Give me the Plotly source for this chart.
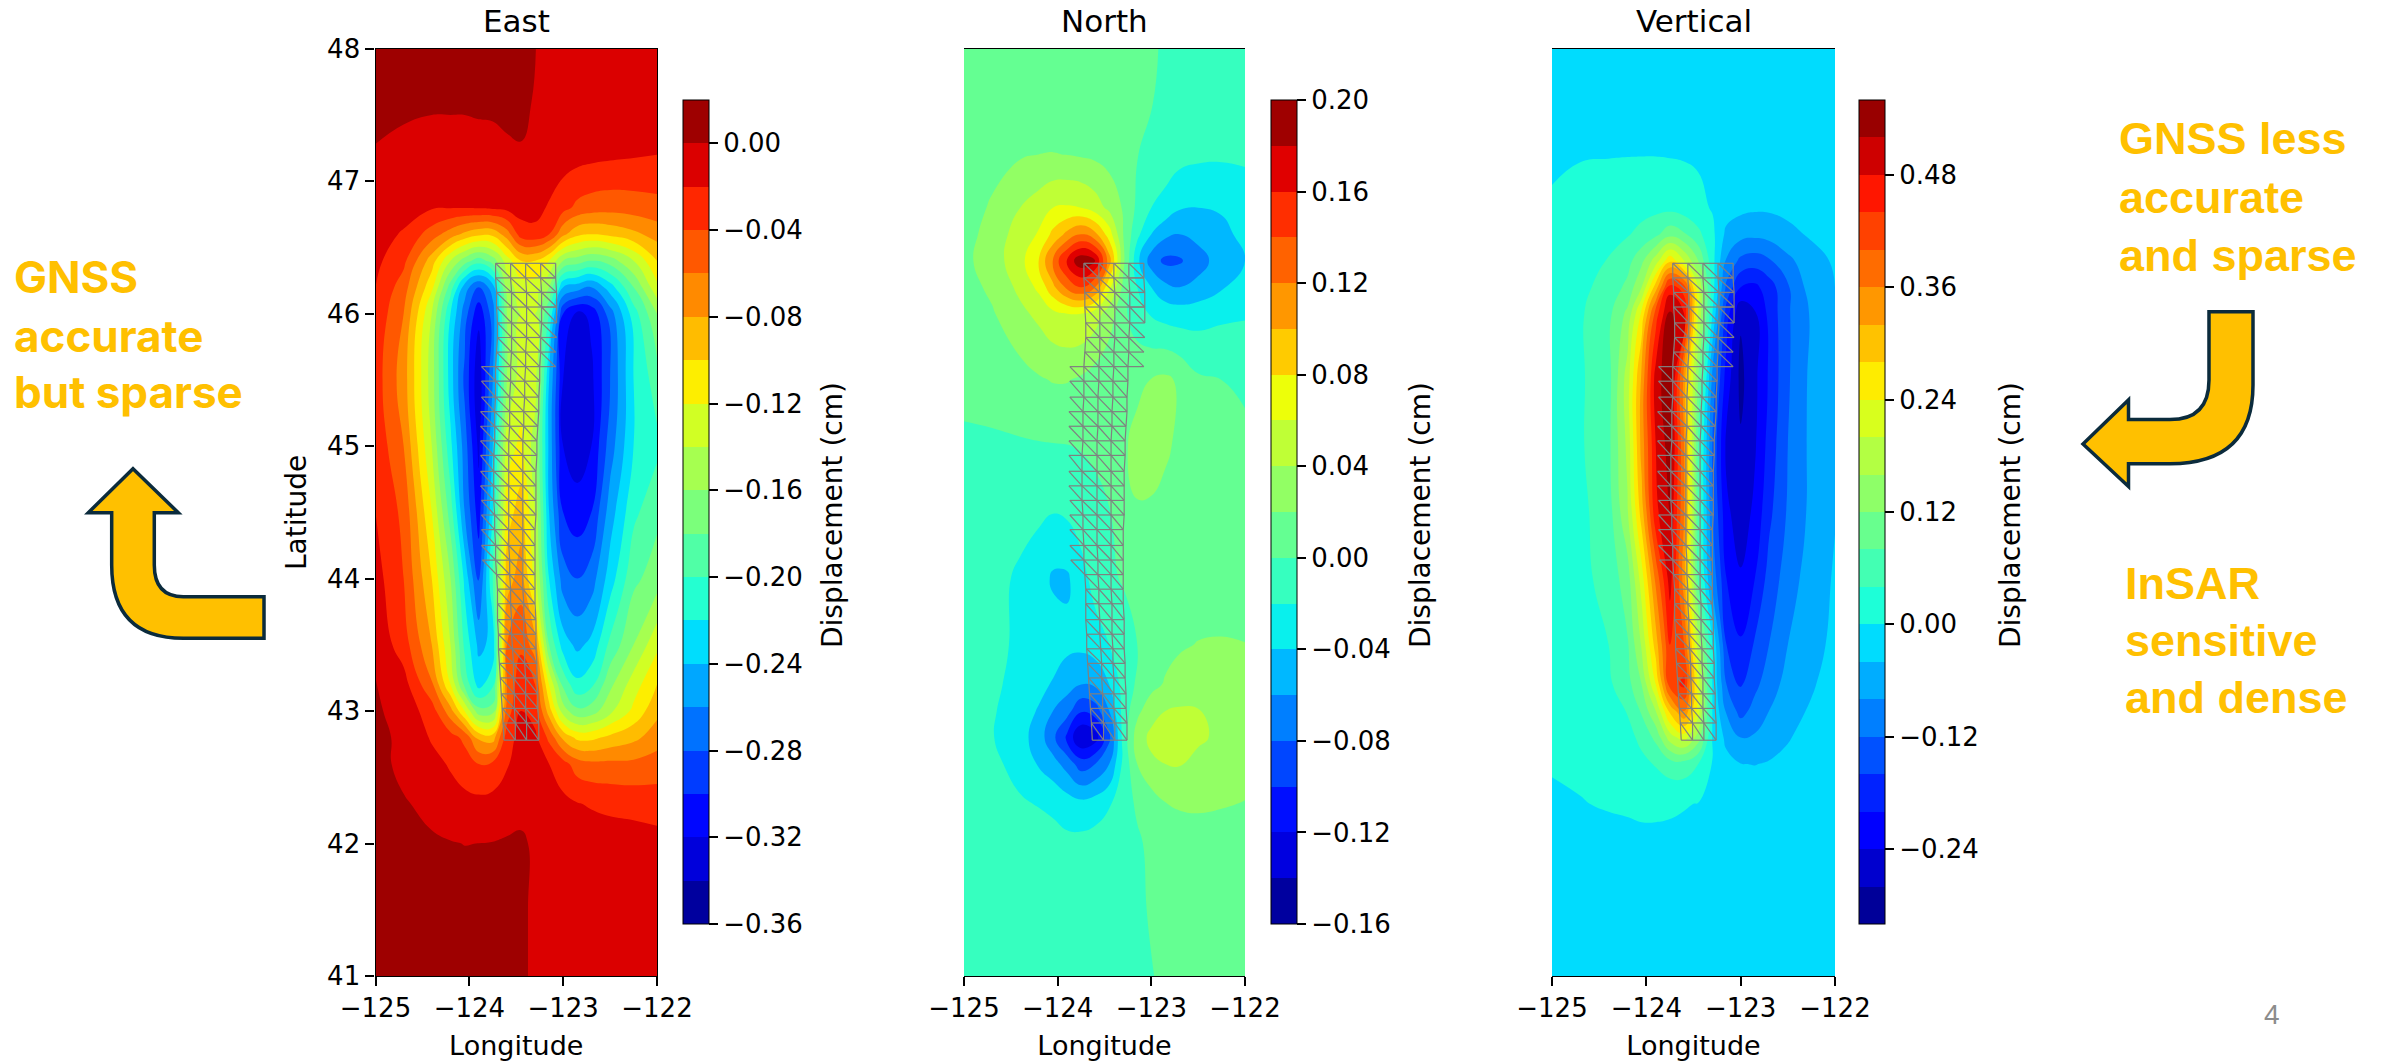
import numpy as np
import plotly.graph_objects as go

W, H = 2384, 1061

lon_nodes = [-125,-124.7,-124.4,-124.2,-124.05,-123.9,-123.75,-123.6,-123.45,-123.3,-123.15,-123,-122.85,-122.7,-122.5,-122.25,-122]
lat_nodes = [48,47.6,47.2,46.8,46.6,46.4,46.2,46,45.5,45,44.5,44,43.5,43.2,43,42.8,42.6,42.3,42,41.5,41]

east_z = [
[.012,.012,.012,.01,.008,.008,.006,.005,.003,.0002,-.003,-.006,-.008,-.008,-.008,-.008,-.008],
[.004,.003,.002,.002,.002,.003,.003,.006,.006,-.002,-.005,-.008,-.01,-.01,-.011,-.012,-.012],
[-.001,-.004,-.006,-.006,-.006,-.006,-.005,-.004,-.002,-.004,-.007,-.01,-.012,-.014,-.016,-.018,-.02],
[-.007,-.012,-.018,-.019,-.019,-.018,-.016,-.014,-.012,-.014,-.022,-.033,-.045,-.05,-.052,-.05,-.047],
[-.012,-.022,-.05,-.07,-.085,-.095,-.095,-.07,-.03,-.025,-.04,-.075,-.095,-.10,-.095,-.085,-.072],
[-.015,-.035,-.09,-.14,-.17,-.19,-.17,-.13,-.10,-.10,-.12,-.16,-.17,-.18,-.17,-.14,-.10],
[-.02,-.05,-.115,-.19,-.25,-.28,-.25,-.15,-.13,-.13,-.16,-.24,-.25,-.26,-.23,-.18,-.125],
[-.025,-.06,-.14,-.22,-.27,-.315,-.27,-.16,-.14,-.14,-.20,-.30,-.325,-.315,-.27,-.21,-.16],
[-.03,-.07,-.15,-.23,-.285,-.335,-.26,-.16,-.13,-.13,-.24,-.32,-.335,-.325,-.28,-.22,-.19],
[-.025,-.06,-.14,-.215,-.27,-.325,-.24,-.13,-.115,-.15,-.245,-.32,-.33,-.32,-.27,-.22,-.205],
[-.02,-.045,-.12,-.19,-.26,-.31,-.22,-.11,-.09,-.14,-.24,-.30,-.312,-.30,-.25,-.205,-.185],
[-.012,-.04,-.10,-.16,-.225,-.285,-.20,-.09,-.07,-.13,-.22,-.27,-.28,-.27,-.23,-.185,-.17],
[-.005,-.03,-.08,-.14,-.205,-.245,-.235,-.06,-.045,-.07,-.18,-.23,-.245,-.235,-.195,-.16,-.125],
[.001,-.012,-.057,-.12,-.185,-.228,-.205,-.06,-.025,-.04,-.12,-.185,-.215,-.205,-.165,-.13,-.10],
[.003,-.008,-.03,-.072,-.12,-.172,-.17,-.05,-.02,-.03,-.09,-.15,-.175,-.17,-.145,-.115,-.085],
[.005,-.004,-.022,-.032,-.045,-.085,-.09,-.03,-.012,-.015,-.045,-.085,-.105,-.105,-.095,-.085,-.07],
[.008,-.006,-.014,-.022,-.03,-.04,-.035,-.022,-.01,-.014,-.02,-.032,-.05,-.055,-.055,-.055,-.05],
[.012,.002,-.006,-.012,-.014,-.014,-.013,-.009,-.004,-.008,-.012,-.015,-.019,-.022,-.025,-.027,-.03],
[.015,.01,.003,.001,-.0003,.0001,.0006,.002,.002,-.002,-.004,-.006,-.007,-.008,-.009,-.01,-.012],
[.02,.015,.012,.01,.009,.008,.007,.006,.002,-.002,-.005,-.006,-.007,-.007,-.007,-.008,-.008],
[.02,.018,.015,.012,.01,.009,.008,.006,.002,-.002,-.004,-.005,-.006,-.006,-.006,-.006,-.006],
]

north_z = [
[.008,.008,.008,.008,.008,.007,.007,.006,.005,.004,.003,.001,-.001,-.003,-.005,-.006,-.008],
[.009,.009,.01,.01,.01,.01,.01,.009,.008,.006,.003,.0005,-.002,-.005,-.007,-.009,-.01],
[.01,.014,.018,.0201,.0205,.0198,.018,.016,.012,.006,.0005,-.005,-.009,-.013,-.016,-.017,-.017],
[.012,.022,.04,.05,.06,.062,.06,.05,.035,.018,-.004,-.02,-.027,-.038,-.04,-.038,-.03],
[.013,.027,.05,.062,.085,.105,.12,.105,.07,.02,-.015,-.04,-.055,-.06,-.055,-.045,-.035],
[.015,.03,.053,.082,.123,.165,.195,.18,.11,.025,-.035,-.07,-.085,-.083,-.067,-.052,-.04],
[.012,.024,.045,.065,.095,.125,.14,.12,.065,.015,-.02,-.04,-.055,-.06,-.055,-.042,-.032],
[.01,.018,.035,.045,.055,.06,.06,.05,.03,.005,-.012,-.022,-.028,-.03,-.028,-.024,-.022],
[.005,.008,.012,.018,.021,.021,.017,.01,.004,.012,.017,.0205,.024,.017,.003,.0,-.003],
[-.003,-.003,-.002,-.0015,-.001,-.0005,.001,.003,.008,.018,.024,.026,.024,.015,.008,.005,.004],
[-.005,-.007,-.012,-.017,-.0195,-.017,-.01,-.005,-.001,.012,.019,.018,.012,.008,.005,.004,.004],
[-.006,-.012,-.024,-.03,-.043,-.043,-.028,-.012,-.004,.002,.009,.009,.008,.006,.006,.006,.007],
[-.008,-.014,-.024,-.027,-.029,-.035,-.035,-.03,-.02,-.012,0,.008,.014,.017,.021,.022,.0205],
[-.009,-.017,-.025,-.034,-.042,-.052,-.06,-.057,-.04,-.012,.003,.014,.022,.03,.031,.028,.026],
[-.009,-.018,-.03,-.042,-.06,-.072,-.098,-.09,-.06,-.012,.015,.032,.04,.042,.041,.033,.03],
[-.009,-.019,-.032,-.05,-.075,-.105,-.14,-.13,-.085,-.012,.03,.045,.05,.052,.044,.035,.03],
[-.008,-.016,-.026,-.042,-.052,-.068,-.09,-.08,-.06,-.015,.02,.036,.04,.041,.033,.028,.025],
[-.006,-.012,-.018,-.021,-.024,-.03,-.034,-.03,-.022,-.006,.002,.01,.0195,.022,.0225,.021,.0195],
[-.004,-.007,-.009,-.011,-.013,-.015,-.014,-.012,-.009,-.004,-.002,.003,.007,.01,.012,.013,.012],
[-.003,-.004,-.005,-.006,-.006,-.006,-.006,-.006,-.005,-.004,-.002,.001,.003,.005,.006,.007,.007],
[-.002,-.003,-.003,-.004,-.004,-.004,-.004,-.004,-.004,-.003,-.002,-.0005,.002,.003,.004,.005,.005],
]

vertical_z = [
[-.012,-.012,-.012,-.012,-.011,-.011,-.012,-.012,-.012,-.013,-.013,-.014,-.014,-.014,-.013,-.012,-.012],
[-.008,-.007,-.006,-.006,-.006,-.006,-.007,-.008,-.009,-.01,-.011,-.012,-.012,-.012,-.012,-.011,-.01],
[-.004,-.002,-.0015,-.0012,-.001,-.001,-.002,-.003,-.005,-.008,-.01,-.012,-.012,-.012,-.012,-.012,-.01],
[.003,.012,.018,.025,.028,.029,.028,.02,.01,-.003,-.02,-.03,-.034,-.034,-.03,-.025,-.02],
[.006,.02,.028,.037,.05,.07,.105,.085,.05,.01,-.05,-.065,-.07,-.065,-.05,-.035,-.028],
[.01,.025,.042,.065,.11,.18,.27,.20,.12,.015,-.085,-.13,-.14,-.125,-.09,-.055,-.035],
[.013,.03,.055,.09,.16,.30,.46,.42,.20,.02,-.13,-.20,-.21,-.18,-.125,-.06,-.04],
[.015,.035,.07,.13,.25,.42,.53,.48,.20,.0,-.18,-.275,-.245,-.19,-.125,-.075,-.042],
[.018,.035,.065,.18,.33,.50,.55,.34,.12,-.09,-.22,-.29,-.25,-.195,-.125,-.07,-.045],
[.018,.035,.07,.17,.335,.48,.54,.36,.075,-.12,-.25,-.275,-.245,-.185,-.12,-.07,-.045],
[.015,.03,.062,.155,.30,.47,.52,.36,.07,-.115,-.23,-.265,-.23,-.17,-.115,-.07,-.042],
[.01,.028,.055,.10,.22,.37,.50,.34,.07,-.09,-.20,-.235,-.20,-.145,-.10,-.06,-.036],
[.006,.022,.04,.075,.165,.30,.44,.40,.18,0,-.16,-.195,-.155,-.12,-.08,-.055,-.03],
[.004,.016,.033,.065,.12,.24,.42,.45,.22,0,-.12,-.165,-.13,-.10,-.065,-.045,-.02],
[.003,.012,.025,.042,.085,.16,.29,.36,.22,0,-.085,-.135,-.105,-.08,-.055,-.035,-.015],
[.002,.008,.016,.027,.05,.09,.18,.22,.14,-.002,-.05,-.08,-.075,-.06,-.043,-.025,-.012],
[.001,.004,.01,.018,.03,.043,.06,.062,.04,-.002,-.028,-.039,-.041,-.037,-.03,-.02,-.01],
[-.002,-.001,.002,.004,.006,.006,.005,.002,-.001,-.006,-.01,-.012,-.012,-.012,-.012,-.01,-.008],
[-.008,-.008,-.008,-.008,-.007,-.007,-.008,-.009,-.01,-.011,-.012,-.012,-.012,-.012,-.011,-.01,-.008],
[-.01,-.01,-.01,-.01,-.01,-.01,-.011,-.012,-.012,-.012,-.013,-.013,-.013,-.013,-.012,-.011,-.01],
[-.012,-.012,-.012,-.012,-.012,-.012,-.012,-.013,-.013,-.013,-.014,-.014,-.014,-.014,-.013,-.012,-.012],
]

# fault mesh nodes: one latitude per row, one longitude per row for each column
mesh_lat = [46.38,46.27,46.16,46.05,45.93,45.82,45.71,45.60,45.49,45.37,45.26,45.15,45.04,44.93,44.81,44.70,44.59,
            44.48,44.37,44.25,44.14,44.03,43.92,43.81,43.69,43.58,43.47,43.36,43.25,43.13,43.02,42.91,42.78]
mesh_w = [None]*7 + [-123.87,-123.87,-123.87,-123.88,-123.88,-123.88,-123.88,-123.88,-123.88,-123.87,-123.87,-123.87,-123.87,-123.86,-123.86] + [None]*11
mesh_a = [-123.72,-123.72,-123.71,-123.71,-123.70,-123.70,-123.71,-123.72,-123.72,-123.72,-123.73,-123.73,-123.73,-123.74,-123.74,-123.74,-123.74,
          -123.73,-123.73,-123.72,-123.72,-123.71,-123.70,-123.70,-123.70,-123.69,-123.69,-123.68,-123.67,-123.66,-123.65,-123.64,-123.63]
mesh_b = [-123.56,-123.56,-123.55,-123.55,-123.55,-123.55,-123.55,-123.56,-123.56,-123.57,-123.57,-123.57,-123.58,-123.58,-123.58,-123.58,-123.58,
          -123.58,-123.58,-123.58,-123.57,-123.57,-123.56,-123.56,-123.55,-123.55,-123.54,-123.53,-123.53,-123.52,-123.52,-123.51,-123.51]
mesh_c = [-123.40,-123.40,-123.39,-123.39,-123.39,-123.39,-123.40,-123.40,-123.41,-123.41,-123.42,-123.42,-123.43,-123.43,-123.43,-123.43,-123.43,
          -123.43,-123.43,-123.43,-123.43,-123.43,-123.43,-123.42,-123.42,-123.42,-123.41,-123.41,-123.40,-123.40,-123.40,-123.39,-123.39]
mesh_d = [-123.24,-123.24,-123.23,-123.23,-123.23,-123.24,-123.24,-123.25,-123.25,-123.26,-123.26,-123.27,-123.28,-123.28,-123.29,-123.29,-123.29,
          -123.29,-123.30,-123.30,-123.30,-123.30,-123.30,-123.30,-123.29,-123.29,-123.29,-123.28,-123.28,-123.27,-123.27,-123.26,-123.26]
mesh_e = [-123.08,-123.08,-123.07,-123.07,-123.07,-123.07,-123.08,-123.08] + [None]*25

lon_ticks = [-125,-124,-123,-122]
lat_ticks = [41,42,43,44,45,46,47,48]
panel_titles = ["East","North","Vertical"]
east_ticks = [-0.36,-0.32,-0.28,-0.24,-0.20,-0.16,-0.12,-0.08,-0.04,0.00]
north_ticks = [-0.16,-0.12,-0.08,-0.04,0.00,0.04,0.08,0.12,0.16,0.20]
vertical_ticks = [-0.24,-0.12,0.00,0.12,0.24,0.36,0.48]

def jet(v):
    r = np.interp(v,[0,.35,.66,.89,1],[0,0,1,1,.5])
    g = np.interp(v,[0,.125,.375,.64,.91,1],[0,0,1,1,0,0])
    b = np.interp(v,[0,.11,.34,.65,1],[.5,1,1,0,0])
    return f"rgb({int(r*255)},{int(g*255)},{int(b*255)})"

def band_scale(n):
    return [[k/(n-1), jet((k+.5)/n)] for k in range(n)]

def step_scale(n):
    s = []
    for k in range(n):
        s += [[k/n, jet((k+.5)/n)], [(k+1)/n, jet((k+.5)/n)]]
    return s

def mesh_xy():
    xs, ys = [], []
    def seg(p, q):
        xs.extend([p[0], q[0], None]); ys.extend([p[1], q[1], None])
    cols = [mesh_a, mesh_b, mesh_c, mesh_d]
    n = len(mesh_lat)
    for k in range(n):
        P = lambda col, r: (col[r], mesh_lat[r])
        for i in range(3):
            seg(P(cols[i],k), P(cols[i+1],k))
            if k < n-1:
                seg(P(cols[i],k), P(cols[i+1],k+1))
        if k < n-1:
            for c in cols:
                seg(P(c,k), P(c,k+1))
            if mesh_e[k] is not None and mesh_e[k+1] is not None:
                seg(P(cols[3],k), P(mesh_e,k+1))
                seg(P(cols[3],k+1), P(mesh_e,k+1))
                if k <= 3:
                    seg(P(mesh_e,k), P(mesh_e,k+1))
                    seg(P(cols[3],k), P(mesh_e,k))
            if mesh_w[k] is not None and mesh_w[k+1] is not None:
                seg(P(mesh_w,k), P(cols[0],k))
                seg(P(mesh_w,k), P(cols[0],k+1))
    return xs, ys

FONT = "DejaVu Sans"
FS = 26
fig = go.Figure()

panels = [
    (east_z, -0.36, 0.02, 0.02, east_ticks, (375.5,657), 683, 832),
    (north_z, -0.16, 0.20, 0.02, north_ticks, (964,1245), 1271, 1420),
    (vertical_z, -0.32, 0.56, 0.04, vertical_ticks, (1552,1835), 1859, 2010),
]
top, bottom = 48.7, 976
cb_top, cb_bot = 100, 924
mx, my = mesh_xy()
for i,(z,lo,hi,step,ticks,(xa,xb),cbx,cbt) in enumerate(panels):
    n = int(round((hi-lo)/step))
    ax = "" if i==0 else str(i+1)
    # the heatmap lies fully under the contour fill; it only carries the colour bar
    fig.add_trace(go.Heatmap(
        x=lon_nodes, y=lat_nodes[::-1], z=z[::-1], zmin=lo, zmax=hi,
        colorscale=step_scale(n), hoverinfo="skip", xaxis="x"+ax, yaxis="y"+ax,
        colorbar=dict(
            x=cbx/W, xanchor="left", xpad=0, ypad=0, y=1-(cb_top+cb_bot)/2/H, yanchor="middle",
            len=(cb_bot-cb_top)/H, lenmode="fraction", thickness=26, thicknessmode="pixels",
            outlinecolor="black", outlinewidth=1,
            tickmode="array", tickvals=ticks, ticktext=[f"{t:.2f}".replace("-","\u2212") for t in ticks],
            ticks="outside", ticklen=9, tickwidth=1.5, tickcolor="black",
            tickfont=dict(family=FONT,size=FS,color="black"),
        ),
    ))
    fig.add_trace(go.Contour(
        x=lon_nodes, y=lat_nodes[::-1], z=z[::-1], showscale=False,
        contours=dict(coloring="fill", start=round(lo+step,3), end=round(hi-step,3), size=step, showlines=False),
        colorscale=band_scale(n),
        line=dict(width=0, smoothing=1.3),
        hoverinfo="skip",
        xaxis="x"+ax, yaxis="y"+ax,
    ))
    fig.add_trace(go.Scatter(x=mx,y=my,mode="lines",line=dict(color="#808080",width=1.2),
                             hoverinfo="skip",showlegend=False,xaxis="x"+ax,yaxis="y"+ax))
    fig.update_layout({
        "xaxis"+ax: dict(domain=[xa/W,xb/W], range=[-125,-122], tickmode="array", tickvals=lon_ticks,
                         ticktext=[f"\u2212{abs(t)}" for t in lon_ticks],
                         ticks="outside", ticklen=9, tickwidth=1.5, tickcolor="black",
                         showline=True, mirror=True, linecolor="black", linewidth=1.2,
                         showgrid=False, zeroline=False,
                         tickfont=dict(family=FONT,size=FS,color="black"),
                         title=dict(text="Longitude", font=dict(family=FONT,size=27,color="black"), standoff=14)),
        "yaxis"+ax: dict(domain=[1-bottom/H,1-top/H], range=[41,48], tickmode="array", tickvals=lat_ticks,
                         ticktext=[str(t) for t in lat_ticks] if i==0 else [""]*8,
                         ticks="outside", ticklen=9, tickwidth=1.5, tickcolor="black",
                         showline=True, mirror=True, linecolor="black", linewidth=1.2,
                         showgrid=False, zeroline=False,
                         tickfont=dict(family=FONT,size=FS,color="black"),
                         title=dict(text="Latitude" if i==0 else "", font=dict(family=FONT,size=28,color="black"), standoff=12)),
    })
    fig.add_annotation(xref="paper",yref="paper",x=(xa+xb)/2/W,y=1-top/H,yshift=8,text=panel_titles[i],
                       showarrow=False,xanchor="center",yanchor="bottom",
                       font=dict(family=FONT,size=31,color="black"))
    fig.add_annotation(xref="paper",yref="paper",x=cbt/W,y=1-515/H,text="Displacement (cm)",textangle=-90,
                       showarrow=False,xanchor="center",yanchor="middle",
                       font=dict(family=FONT,size=28,color="black"))

AMBER = "#FFC000"
DARK = "#0B2B3C"
def px(x,y): return f"{x/W:.5f} {1-y/H:.5f}"
def arrow(cmds):
    out=[]
    for c in cmds:
        out.append(c[0]+" "+" ".join(px(c[j],c[j+1]) for j in range(1,len(c),2)))
    return " ".join(out)+" Z"
left_arrow = [("M",133,468.7),("L",178.3,512.7),("L",154.3,512.7),("L",154.3,565),("Q",154.3,596.7,183.3,596.7),
              ("L",264,596.7),("L",264,638.3),("L",183.3,638.3),("Q",111.7,638.3,111.7,565),("L",111.7,512.7),("L",88.3,512.7)]
right_arrow = [("M",2083,444),("L",2128.5,400),("L",2128.5,419.6),("L",2170,419.6),("Q",2209,419.6,2209,380),
               ("L",2209,311.7),("L",2253,311.7),("L",2253,385),("Q",2253,463.7,2170,463.7),("L",2128.5,463.7),("L",2128.5,486.5)]
for a in (left_arrow,right_arrow):
    fig.add_shape(type="path",xref="paper",yref="paper",path=arrow(a),fillcolor=AMBER,line=dict(color=DARK,width=3.5),layer="above")

labels = [("GNSS",12,277,"Inter"),("accurate",12,336,"Inter"),("but sparse",12,392,"Inter"),
          ("GNSS less",2117,139,"Liberation Sans"),("accurate",2117,198,"Liberation Sans"),("and sparse",2117,256,"Liberation Sans"),
          ("InSAR",2123,583,"Liberation Sans"),("sensitive",2123,640,"Liberation Sans"),("and dense",2123,697,"Liberation Sans")]
for t,x,y,f in labels:
    fig.add_annotation(xref="paper",yref="paper",x=x/W,y=1-y/H,text=f"<b>{t}</b>",showarrow=False,
                       xanchor="left",yanchor="middle",font=dict(family=f,size=45 if f!="Inter" else 44,color=AMBER))
fig.add_annotation(xref="paper",yref="paper",x=2282/W,y=1-1032/H,text="4",showarrow=False,
                   font=dict(family="Liberation Sans",size=28,color="#8c8c8c"))

fig.update_layout(width=W,height=H,margin=dict(l=0,r=0,t=0,b=0,autoexpand=False),plot_bgcolor="white",paper_bgcolor="white",showlegend=False)
fig.write_html("out.html",config={"displayModeBar":False},post_script="document.body.style.margin='0';document.body.style.overflow='hidden';")
